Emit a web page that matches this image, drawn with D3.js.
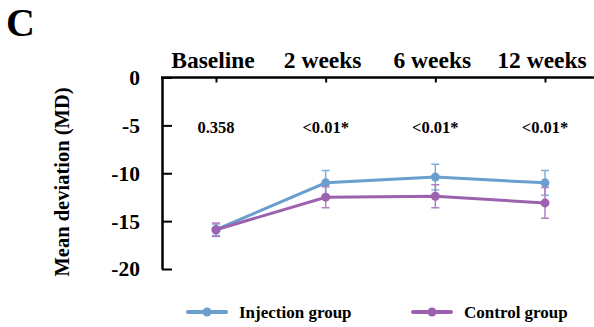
<!DOCTYPE html>
<html>
<head>
<meta charset="utf-8">
<script src="https://cdn.jsdelivr.net/npm/d3@7"></script>
<style>
  body { margin: 0; background: #fff; }
  svg text { font-family: "Liberation Serif", "Times New Roman", serif; font-weight: bold; fill: #000; }
</style>
</head>
<body>
<svg id="chart"></svg>
<script>
const categories = ['Baseline', '2 weeks', '6 weeks', '12 weeks'];
const pValues = ['0.358', '<0.01*', '<0.01*', '<0.01*'];
const injectionMean = [-15.9, -11.0, -10.4, -11.0];
const injectionErr = [0.6, 1.3, 1.35, 1.3];
const controlMean = [-15.9, -12.5, -12.4, -13.1];
const controlErr = [0.7, 1.1, 1.2, 1.6];
const yTicks = [0, -5, -10, -15, -20];

const width = 594, height = 327;
const axisX = 162;

const svg = d3.select('#chart')
    .attr('width', width)
    .attr('height', height);

const x = d3.scalePoint()
    .domain(categories)
    .range([216, 545]);

const y = d3.scaleLinear()
    .domain([0, -20])
    .range([77.5, 269]);

// panel letter
svg.append('text')
    .attr('x', 6)
    .attr('y', 36)
    .style('font-size', '40px')
    .text('C');

// top axis line with small downward ticks
svg.append('line')
    .attr('x1', axisX - 1).attr('x2', width)
    .attr('y1', y(0)).attr('y2', y(0))
    .attr('stroke', '#000').attr('stroke-width', 2.5);

const xAxis = svg.append('g')
    .attr('transform', `translate(0, ${y(0)})`)
    .call(d3.axisBottom(x).tickSize(5).tickFormat(''));
xAxis.select('.domain').remove();
xAxis.selectAll('line').attr('stroke-width', 2);

svg.selectAll('.cat-label')
    .data(categories)
    .enter()
    .append('text')
    .attr('class', 'cat-label')
    .attr('x', d => x(d) - 3)
    .attr('y', 68)
    .attr('text-anchor', 'middle')
    .style('font-size', '23.5px')
    .text(d => d);

svg.selectAll('.p-label')
    .data(pValues)
    .enter()
    .append('text')
    .attr('class', 'p-label')
    .attr('x', (d, i) => x(categories[i]))
    .attr('y', 133)
    .attr('text-anchor', 'middle')
    .style('font-size', '16.5px')
    .text(d => d);

// left axis
const yAxis = svg.append('g')
    .attr('transform', `translate(${axisX}, 0)`)
    .call(d3.axisLeft(y).tickValues(yTicks).tickFormat(d => String(d))
        .tickSize(-10).tickPadding(22).tickSizeOuter(0));
yAxis.select('.domain').attr('stroke-width', 2.5);
yAxis.selectAll('.tick line').attr('stroke-width', 2);
yAxis.selectAll('.tick text')
    .style('font-size', '21.5px')
    .style('font-family', '"Liberation Serif", serif')
    .style('font-weight', 'bold')
    .attr('fill', '#000');

svg.append('text')
    .attr('transform', 'translate(69, 182) rotate(-90)')
    .attr('text-anchor', 'middle')
    .style('font-size', '20.5px')
    .text('Mean deviation (MD)');

const series = [
    { name: 'Injection group', mean: injectionMean, err: injectionErr, color: '#6a9fcf', bar: '#7fb0dc' },
    { name: 'Control group', mean: controlMean, err: controlErr, color: '#9c62b0', bar: '#b37fc4' }
];

const line = d3.line()
    .x((d, i) => x(categories[i]))
    .y(d => y(d));

series.forEach(s => {
    const g = svg.append('g');
    const pts = s.mean.map((m, i) => ({ cat: categories[i], m: m, e: s.err[i] }));

    g.selectAll('.eb')
        .data(pts)
        .enter()
        .append('path')
        .attr('fill', 'none')
        .attr('stroke', s.bar)
        .attr('stroke-width', 1.5)
        .attr('d', d => {
            const cx = x(d.cat), t = y(d.m + d.e), b = y(d.m - d.e);
            return `M${cx},${t}V${b}M${cx - 4},${t}H${cx + 4}M${cx - 4},${b}H${cx + 4}`;
        });

    g.append('path')
        .datum(s.mean)
        .attr('fill', 'none')
        .attr('stroke', s.color)
        .attr('stroke-width', 3)
        .attr('d', line);

    g.selectAll('circle')
        .data(pts)
        .enter()
        .append('circle')
        .attr('cx', d => x(d.cat))
        .attr('cy', d => y(d.m))
        .attr('r', 4.5)
        .attr('fill', s.color);
});

// legend
const legendX = [188, 413];
series.forEach((s, i) => {
    const lg = svg.append('g').attr('transform', `translate(${legendX[i]}, 312)`);
    lg.append('line')
        .attr('x1', 0).attr('x2', 38)
        .attr('stroke', s.color).attr('stroke-width', 4)
        .attr('stroke-linecap', 'round');
    lg.append('circle')
        .attr('cx', 19).attr('r', 4.5)
        .attr('fill', s.color);
    lg.append('text')
        .attr('x', 51)
        .attr('y', 6)
        .style('font-size', '17px')
        .text(s.name);
});
</script>
</body>
</html>
